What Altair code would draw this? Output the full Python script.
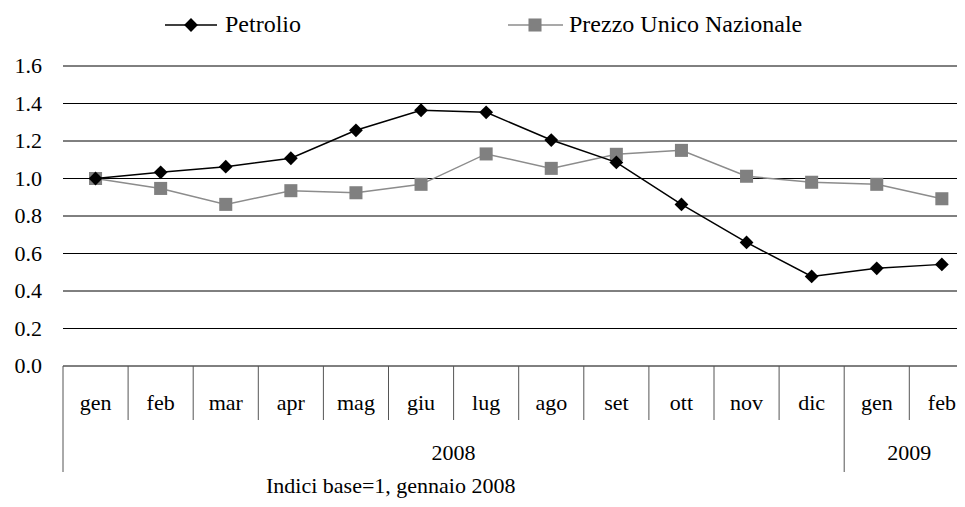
import altair as alt
import pandas as pd

months = ["gen", "feb", "mar", "apr", "mag", "giu", "lug", "ago", "set", "ott", "nov", "dic", "gen", "feb"]
years = ["2008"] * 12 + ["2009"] * 2
petrolio = [1.00, 1.033, 1.063, 1.108, 1.257, 1.364, 1.353, 1.205, 1.086, 0.862, 0.659, 0.478, 0.521, 0.542]
pun = [1.00, 0.947, 0.862, 0.935, 0.924, 0.969, 1.131, 1.054, 1.129, 1.150, 1.012, 0.980, 0.969, 0.892]
y_ticks = [0.0, 0.2, 0.4, 0.6, 0.8, 1.0, 1.2, 1.4, 1.6]
series_names = ["Petrolio", "Prezzo Unico Nazionale"]
subtitle = "Indici base=1, gennaio 2008"

FONT = "Liberation Serif"
FS = 22
LFS = 24
W, H = 894, 300
BAND = 65.1
xmax = -0.5 + W / BAND

idx = list(range(len(months)))
df = pd.DataFrame({"idx": idx, "month": months, "year": years,
                   "Petrolio": petrolio, "PUN": pun})

xsc = alt.Scale(domain=[-0.5, xmax], nice=False, zero=False)
xs = alt.X("idx:Q", scale=xsc, axis=None)
ysc = alt.Scale(domain=[0, 1.6], nice=False)

tdf = pd.DataFrame({"v": y_ticks, "lab": [f"{v:.1f}" for v in y_ticks]})
grid = alt.Chart(tdf).mark_rule(color="black", strokeWidth=1).encode(
    y=alt.Y("v:Q", scale=ysc, axis=None), x=alt.value(0), x2=alt.value(W))
ylabels = alt.Chart(tdf).mark_text(font=FONT, fontSize=FS, color="black", align="right",
                                   baseline="middle").encode(
    y=alt.Y("v:Q", scale=ysc, axis=None), x=alt.value(-21), text="lab:N")

base = alt.Chart(df)

pun_line = base.mark_line(color="#8c8c8c", strokeWidth=1.5).encode(
    x=xs, y=alt.Y("PUN:Q", scale=ysc, axis=None))
pun_pts = base.mark_point(shape="square", filled=True, color="#808080", size=170, opacity=1).encode(
    x=xs, y=alt.Y("PUN:Q", scale=ysc, axis=None))
pet_line = base.mark_line(color="black", strokeWidth=1.5).encode(
    x=xs, y=alt.Y("Petrolio:Q", scale=ysc, axis=None))
pet_pts = base.mark_point(shape="diamond", filled=True, color="black", size=190, opacity=1).encode(
    x=xs, y=alt.Y("Petrolio:Q", scale=ysc, axis=None))

# category separators
bounds = []
for i in idx:
    long_ = (i == 0) or (years[i] != years[i - 1])
    bounds.append({"b": i - 0.5, "long": long_})
bdf = pd.DataFrame(bounds)
bx = alt.X("b:Q", scale=xsc, axis=None)
sep_short = alt.Chart(bdf[~bdf["long"]]).mark_rule(color="#555555", strokeWidth=1).encode(
    x=bx, y=alt.value(H), y2=alt.value(H + 54))
sep_long = alt.Chart(bdf[bdf["long"]]).mark_rule(color="#555555", strokeWidth=1).encode(
    x=bx, y=alt.value(H), y2=alt.value(H + 106))

month_txt = base.mark_text(font=FONT, fontSize=FS, color="black", baseline="middle").encode(
    x=xs, y=alt.value(H + 37), text="month:N")

ydf = df.groupby("year", as_index=False)["idx"].mean()
year_txt = alt.Chart(ydf).mark_text(font=FONT, fontSize=FS, color="black", baseline="middle").encode(
    x=alt.X("idx:Q", scale=xsc, axis=None),
    y=alt.value(H + 87), text="year:N")

sub_df = pd.DataFrame({"t": [subtitle]})
sub_txt = alt.Chart(sub_df).mark_text(font=FONT, fontSize=22, color="black", baseline="middle",
                                      align="left").encode(
    x=alt.value(266 - 63), y=alt.value(H + 120), text="t:N")

# legend
leg_df = pd.DataFrame({"name": series_names})
ly = -41
l1_line = alt.Chart(leg_df.iloc[[0]]).mark_rule(color="black", strokeWidth=1.5).encode(
    x=alt.value(102), x2=alt.value(154), y=alt.value(ly))
l1_pt = alt.Chart(leg_df.iloc[[0]]).mark_point(shape="diamond", filled=True, color="black",
                                               size=190, opacity=1).encode(
    x=alt.value(128), y=alt.value(ly))
l1_txt = alt.Chart(leg_df.iloc[[0]]).mark_text(font=FONT, fontSize=LFS, color="black",
                                              align="left", baseline="middle").encode(
    x=alt.value(162), y=alt.value(ly), text="name:N")
l2_line = alt.Chart(leg_df.iloc[[1]]).mark_rule(color="#8c8c8c", strokeWidth=1.5).encode(
    x=alt.value(445), x2=alt.value(500), y=alt.value(ly))
l2_pt = alt.Chart(leg_df.iloc[[1]]).mark_point(shape="square", filled=True, color="#808080",
                                               size=170, opacity=1).encode(
    x=alt.value(472), y=alt.value(ly))
l2_txt = alt.Chart(leg_df.iloc[[1]]).mark_text(font=FONT, fontSize=LFS, color="black",
                                              align="left", baseline="middle").encode(
    x=alt.value(506), y=alt.value(ly), text="name:N")

chart = alt.layer(
    grid, ylabels, sep_short, sep_long, month_txt, year_txt, sub_txt,
    pun_line, pun_pts, pet_line, pet_pts,
    l1_line, l1_pt, l1_txt, l2_line, l2_pt, l2_txt
).properties(
    width=W, height=H,
    autosize=alt.AutoSizeParams(type="none"),
    padding={"left": 55, "top": 58, "right": 0, "bottom": 133},
    background="white",
).configure(font=FONT).configure_view(stroke=None)

chart.save("out.html", embed_options={"renderer": "svg", "actions": False})
